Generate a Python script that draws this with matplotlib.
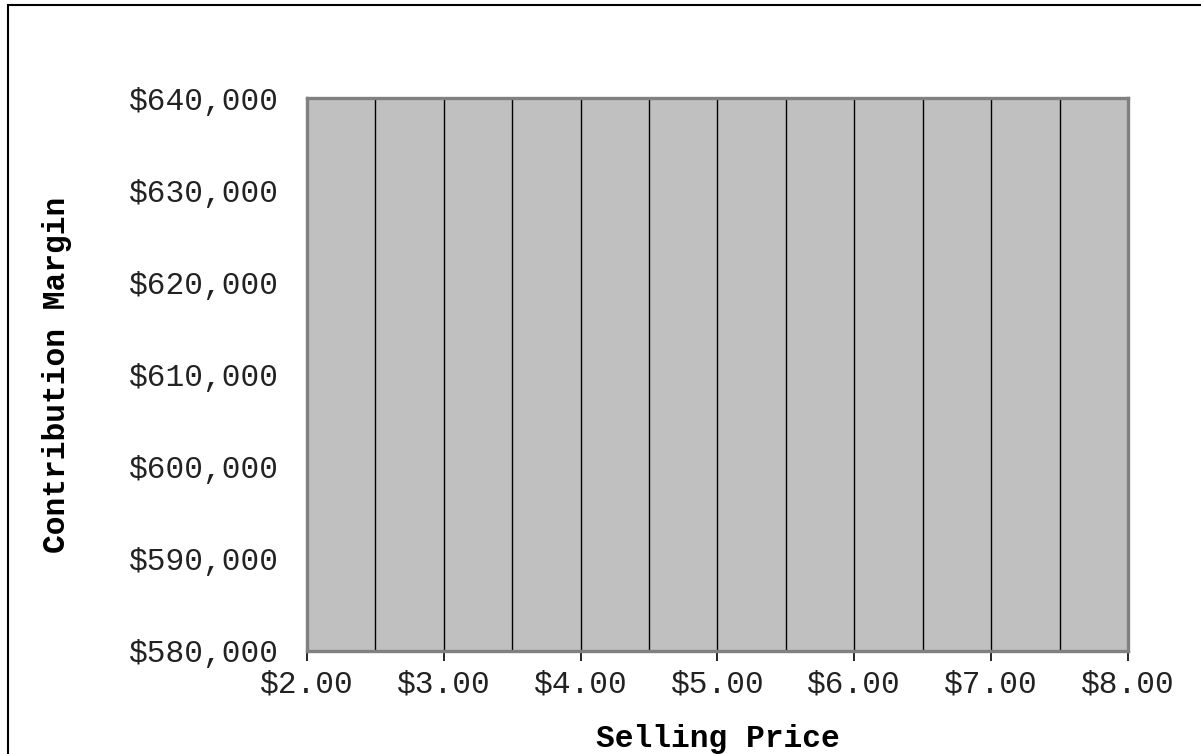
import matplotlib
matplotlib.use('Agg')
import matplotlib.pyplot as plt
import matplotlib.ticker as ticker
from matplotlib.patches import Rectangle

# axis values
price_ticks = [2.0, 3.0, 4.0, 5.0, 6.0, 7.0, 8.0]
price_grid = [2.5, 3.0, 3.5, 4.0, 4.5, 5.0, 5.5, 6.0, 6.5, 7.0, 7.5]
margin_ticks = [580000, 590000, 600000, 610000, 620000, 630000, 640000]

plt.rcParams['font.family'] = ['Liberation Mono', 'DejaVu Sans Mono']

fig = plt.figure(figsize=(12.01, 7.54), dpi=100)
ax = fig.add_axes([307 / 1201, 1 - 651 / 754, 821 / 1201, 553 / 754])
ax.set_facecolor('#c0c0c0')

ax.set_xlim(price_ticks[0], price_ticks[-1])
ax.set_ylim(margin_ticks[0], margin_ticks[-1])
ax.set_xticks(price_ticks)
ax.set_yticks(margin_ticks)
ax.xaxis.set_major_formatter(ticker.FuncFormatter(lambda v, p: '${:.2f}'.format(v)))
ax.yaxis.set_major_formatter(ticker.FuncFormatter(lambda v, p: '${:,.0f}'.format(v)))

for x in price_grid:
    ax.axvline(x, color='black', lw=1.0, zorder=1)

for s in ax.spines.values():
    s.set_color('#808080')
    s.set_linewidth(2.4)
    s.set_zorder(3)

ax.tick_params(axis='x', length=7, width=1.2, color='black', pad=6,
               labelsize=22.5, labelcolor='#222222')
ax.tick_params(axis='y', length=0, pad=20, labelsize=22.5, labelcolor='#222222')

ax.set_xlabel('Selling Price', fontsize=22.5, fontweight='bold')
ax.xaxis.set_label_coords(0.5, -(747 - 651) / 553)
ax.xaxis.label.set_verticalalignment('baseline')

ax.set_ylabel('Contribution Margin', fontsize=22.5, fontweight='bold')
ax.yaxis.set_label_coords((57 - 307) / 821, 0.5)
ax.yaxis.label.set_verticalalignment('center')

# outer chart border (right and bottom edges fall outside the picture)
fig.patches.append(Rectangle((8 / 1201, -0.05), 1.2, 1 - 5 / 754 + 0.05,
                             transform=fig.transFigure, fill=False,
                             edgecolor='black', lw=1.5))

plt.savefig('out.png', dpi=100)
